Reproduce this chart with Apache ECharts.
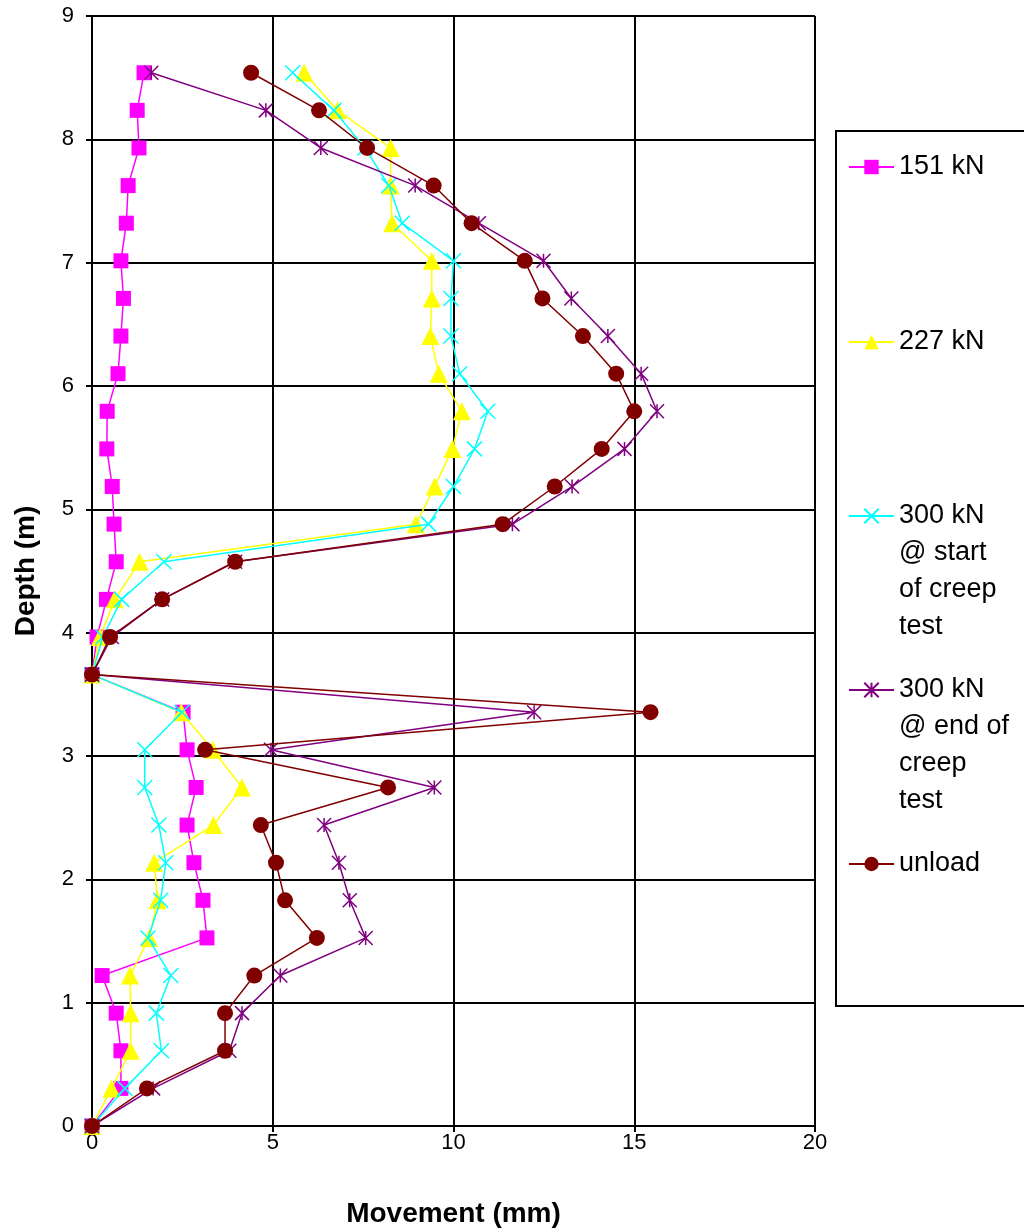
<!DOCTYPE html>
<html>
<head>
<meta charset="utf-8">
<style>
  html, body { margin: 0; padding: 0; background: #ffffff; }
  #chart { width: 1024px; height: 1229px; }
</style>
<script src="https://cdn.jsdelivr.net/npm/echarts@6/dist/echarts.min.js"></script>
</head>
<body>
<div id="chart"></div>
<script>
// Depth of each reading (m)
const depths = [0, 0.305, 0.61, 0.915, 1.22, 1.525, 1.83, 2.135, 2.44, 2.745, 3.05, 3.355, 3.66, 3.965,
  4.27, 4.575, 4.88, 5.185, 5.49, 5.795, 6.1, 6.405, 6.71, 7.015, 7.32, 7.625, 7.93, 8.235, 8.54];

// Movement (mm) at each depth, per load stage
const load151 = [0, 0.8, 0.8, 0.67, 0.28, 3.18, 3.07, 2.82, 2.63, 2.88, 2.63, 2.52, 0, 0.14,
  0.4, 0.67, 0.61, 0.56, 0.41, 0.42, 0.72, 0.8, 0.87, 0.8, 0.95, 1.0, 1.3, 1.25, 1.44];
const load227 = [0, 0.54, 1.07, 1.07, 1.05, 1.58, 1.81, 1.72, 3.36, 4.15, 3.34, 2.47, 0, 0.22,
  0.63, 1.32, 8.96, 9.48, 9.97, 10.23, 9.59, 9.36, 9.4, 9.4, 8.3, 8.26, 8.26, 6.79, 5.87];
const load300Start = [0, 0.91, 1.92, 1.78, 2.18, 1.55, 1.9, 2.04, 1.85, 1.46, 1.46, 2.49, 0, 0.3,
  0.82, 1.99, 9.31, 10.0, 10.58, 10.95, 10.17, 9.93, 9.93, 10.0, 8.58, 8.21, 7.55, 6.69, 5.55];
const load300End = [0, 1.69, 3.8, 4.15, 5.21, 7.57, 7.13, 6.83, 6.42, 9.47, 4.95, 12.23, 0, 0.55,
  1.94, 3.96, 11.63, 13.28, 14.73, 15.63, 15.19, 14.27, 13.26, 12.49, 10.7, 8.94, 6.33, 4.81, 1.64];
const unload = [0, 1.52, 3.68, 3.68, 4.49, 6.22, 5.34, 5.09, 4.67, 8.19, 3.13, 15.45, 0, 0.5,
  1.94, 3.96, 11.36, 12.8, 14.1, 15.0, 14.5, 13.58, 12.46, 11.97, 10.5, 9.45, 7.61, 6.28, 4.40];

const seriesNames = ['151 kN', '227 kN', '300 kN\n@ start\nof creep\ntest', '300 kN\n@ end of\ncreep\ntest', 'unload'];
const xTicks = { min: 0, max: 20, interval: 5 };
const yTicks = { min: 0, max: 9, interval: 1 };

const FONT = '"Liberation Sans", Arial, sans-serif';
const pairs = arr => arr.map((v, i) => [v, depths[i]]);

const styles = [
  { color: '#FF00FF', symbol: 'rect', size: 15, stroke: false },
  { color: '#FFFF00', symbol: 'triangle', size: 18, stroke: false },
  { color: '#00FFFF', symbol: 'path://M0,0L10,10M10,0L0,10', size: 15, stroke: true },
  { color: '#800080', symbol: 'path://M0,0L10,10M10,0L0,10M5,0L5,10', size: 14, stroke: true },
  { color: '#800000', symbol: 'circle', size: 16, stroke: false }
];
const values = [load151, load227, load300Start, load300End, unload];

const series = values.map((vals, i) => {
  const s = styles[i];
  return {
    name: seriesNames[i],
    type: 'line',
    data: pairs(vals),
    symbol: s.symbol,
    symbolSize: s.size,
    showAllSymbol: true,
    lineStyle: { color: s.color, width: 1.5 },
    itemStyle: s.stroke
      ? { color: s.color, borderColor: s.color, borderWidth: 1.5 }
      : { color: s.color, borderWidth: 0 },
    emphasis: { disabled: true },
    z: 2 + i
  };
});

// legend icon centres (px); first text line is aligned with the icon
const legendCenters = [167, 342, 516, 690, 864];
const LH = 37;
const legends = seriesNames.map((name, i) => {
  const lines = name.split('\n').length;
  const totalLines = 2 * lines - 1;
  return {
    data: [name],
    orient: 'vertical',
    left: 848,
    top: legendCenters[i] - totalLines * LH / 2,
    padding: 0,
    itemWidth: 45,
    itemHeight: 18,
    itemGap: 0,
    formatter: n => '\n'.repeat(n.split('\n').length - 1) + n,
    textStyle: {
      fontFamily: FONT,
      fontSize: 27,
      color: '#000',
      lineHeight: LH
    }
  };
});

const chart = echarts.init(document.getElementById('chart'), null, { renderer: 'canvas' });
chart.setOption({
  animation: false,
  backgroundColor: '#ffffff',
  grid: { left: 92, right: 209, top: 16, bottom: 103, containLabel: false, outerBoundsMode: 'none' },
  legend: legends,
  graphic: [{
    type: 'rect',
    shape: { x: 836, y: 131, width: 220, height: 875 },
    style: { fill: 'none', stroke: '#000', lineWidth: 2 },
    silent: true,
    z: 0
  }],
  xAxis: {
    type: 'value',
    min: xTicks.min, max: xTicks.max, interval: xTicks.interval,
    name: 'Movement (mm)',
    nameLocation: 'middle',
    nameGap: 74,
    nameTextStyle: { fontFamily: FONT, fontSize: 28, fontWeight: 'bold', color: '#000' },
    axisLine: { show: true, onZero: false, lineStyle: { color: '#000', width: 2 } },
    axisTick: { show: true, inside: false, length: 6, lineStyle: { color: '#000', width: 2 } },
    axisLabel: { fontFamily: FONT, fontSize: 22, color: '#000', margin: 6 },
    splitLine: { show: true, lineStyle: { color: '#000', width: 2 } }
  },
  yAxis: {
    type: 'value',
    min: yTicks.min, max: yTicks.max, interval: yTicks.interval,
    name: 'Depth (m)',
    nameLocation: 'middle',
    nameGap: 52,
    nameTextStyle: { fontFamily: FONT, fontSize: 28, fontWeight: 'bold', color: '#000' },
    axisLine: { show: true, onZero: false, lineStyle: { color: '#000', width: 2 } },
    axisTick: { show: true, inside: false, length: 6, lineStyle: { color: '#000', width: 2 } },
    axisLabel: { fontFamily: FONT, fontSize: 22, color: '#000', margin: 18 },
    splitLine: { show: true, lineStyle: { color: '#000', width: 2 } }
  },
  series: series
});
</script>
</body>
</html>
